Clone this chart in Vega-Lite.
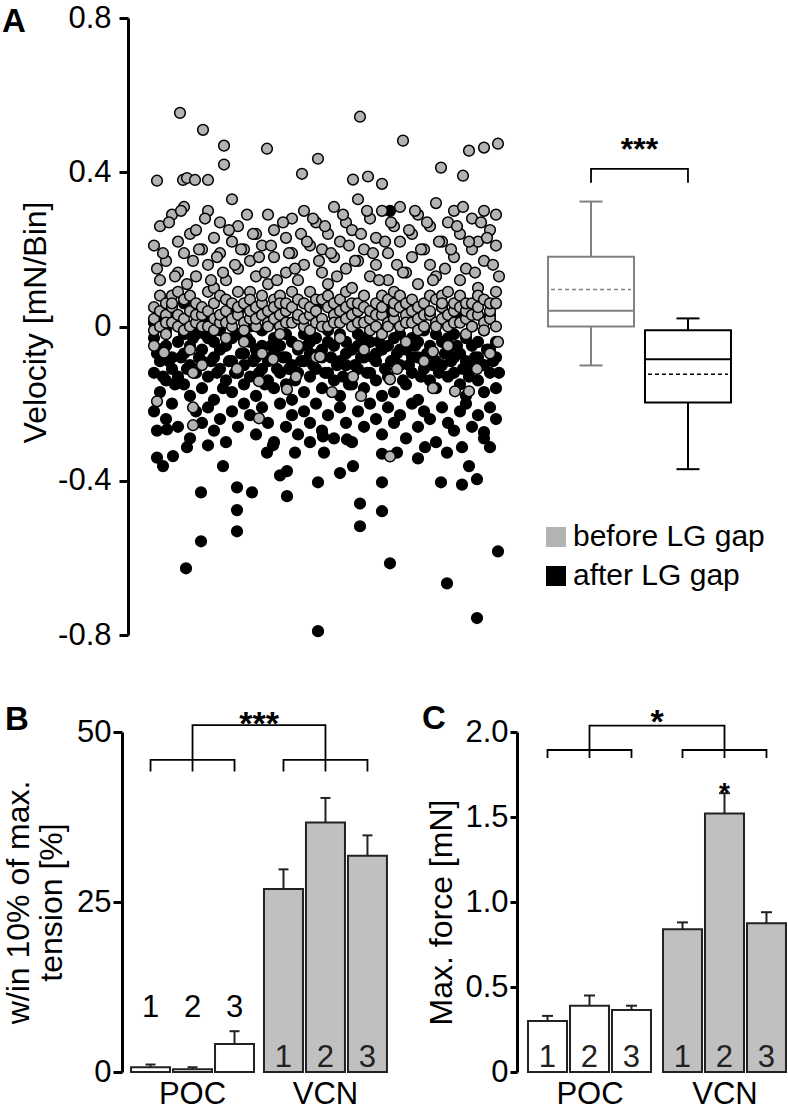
{
"$schema": "https://vega.github.io/schema/vega-lite/v6.json",
"autosize": {"type": "none"},
"padding": {"left": 122, "top": 18, "right": 666, "bottom": 1092},
"config": {
  "font": "Liberation Sans",
  "view": {"stroke": null},
  "axis": {"labelFont": "Liberation Sans", "titleFont": "Liberation Sans", "labelColor": "#000", "titleColor": "#000", "domainColor": "#000", "tickColor": "#000", "grid": false, "titleFontWeight": "normal", "labelFlush": false, "labelOverlap": false},
  "legend": {"labelFont": "Liberation Sans", "labelColor": "#000"},
  "title": {"font": "Liberation Sans", "color": "#000"},
  "text": {"font": "Liberation Sans", "color": "#000"}
},
"resolve": {"scale": {"fill": "independent", "stroke": "independent"}, "legend": {"fill": "independent", "stroke": "independent"}},
"columns": 2,
"spacing": {"row": 97, "column": 9},
"bounds": "flush",
"concat": [
{
  "width": 386, "height": 617,
  "title": {"text": "A", "anchor": "start", "frame": "group", "fontSize": 33, "fontWeight": "bold", "baseline": "alphabetic", "offset": 0, "dx": -120, "dy": 63},
  "layer": [
    {"data": {"name": "after"},
     "mark": {"type": "circle", "size": 115, "opacity": 1, "stroke": "#000", "strokeWidth": 1.5},
     "encoding": {
       "x": {"field": "t", "type": "quantitative", "scale": {"domain": [-28, 358], "nice": false, "zero": false}, "axis": null},
       "y": {"field": "v", "type": "quantitative", "scale": {"domain": [-0.8, 0.8], "nice": false, "zero": false},
             "axis": {"values": [-0.8, -0.4, 0, 0.4, 0.8], "labelExpr": "datum.value == 0 ? '0' : (datum.value < 0 ? '-' : '') + format(abs(datum.value), '.1f')",
                      "labelFontSize": 31, "tickSize": 9, "tickWidth": 3, "domainWidth": 3, "labelPadding": 8, "offset": -6,
                      "title": "Velocity [mN/Bin]", "titleFontSize": 32, "titleAngle": -90, "titleBaseline": "alphabetic", "titleAlign": "center", "titleX": -82.6, "titleY": 304}},
       "fill": {"datum": "after LG gap", "type": "nominal", "scale": {"domain": ["before LG gap", "after LG gap"], "range": ["#b3b3b3", "#000000"]},
                "legend": {"title": null, "orient": "none", "legendX": 419, "legendY": 504, "symbolType": "square", "symbolSize": 400, "labelFontSize": 30, "labelLimit": 400, "rowPadding": 9, "labelOffset": 2, "symbolStrokeWidth": 0,
                           "encode": {"symbols": {"update": {"fill": {"signal": "datum.label === 'before LG gap' ? '#7f7f7f' : '#000000'"}, "strokeWidth": {"value": 0}, "opacity": {"value": 1}}}}}}
     }},
    {"data": {"name": "before"},
     "mark": {"type": "circle", "size": 115, "opacity": 1, "stroke": "#000", "strokeWidth": 1.5},
     "encoding": {
       "x": {"field": "t", "type": "quantitative"},
       "y": {"field": "v", "type": "quantitative"},
       "fill": {"datum": "before LG gap", "type": "nominal"}
     }}
  ]
},
{
  "width": 245, "height": 617,
  "title": {"text": "***", "anchor": "middle", "frame": "group", "fontSize": 32, "fontWeight": "bold", "baseline": "alphabetic", "offset": 0, "dy": 174},
  "data": {"name": "box"},
  "encoding": {
    "x": {"field": "g", "type": "nominal", "scale": {"domain": ["before", "after"], "paddingInner": 0.113, "paddingOuter": 0.32}, "axis": null}
  },
  "layer": [
    {"mark": {"type": "rule", "strokeWidth": 2},
     "encoding": {"y": {"field": "lo", "type": "quantitative", "scale": {"domain": [-0.8, 0.8], "nice": false, "zero": false}, "axis": null}, "y2": {"field": "q1"},
                  "stroke": {"field": "g", "type": "nominal", "scale": {"domain": ["before", "after"], "range": ["#808080", "#000000"]}, "legend": null}}},
    {"mark": {"type": "rule", "strokeWidth": 2},
     "encoding": {"y": {"field": "q3", "type": "quantitative"}, "y2": {"field": "hi"}, "stroke": {"field": "g", "type": "nominal", "legend": null}}},
    {"mark": {"type": "point", "shape": "stroke", "size": 529, "filled": false, "strokeWidth": 2, "opacity": 1},
     "encoding": {"y": {"field": "lo", "type": "quantitative"}, "stroke": {"field": "g", "type": "nominal", "legend": null}}},
    {"mark": {"type": "point", "shape": "stroke", "size": 529, "filled": false, "strokeWidth": 2, "opacity": 1},
     "encoding": {"y": {"field": "hi", "type": "quantitative"}, "stroke": {"field": "g", "type": "nominal", "legend": null}}},
    {"mark": {"type": "bar", "fill": "#ffffff", "strokeWidth": 2},
     "encoding": {"y": {"field": "q1", "type": "quantitative"}, "y2": {"field": "q3"}, "stroke": {"field": "g", "type": "nominal", "legend": null}}},
    {"mark": {"type": "point", "shape": "stroke", "size": 7056, "filled": false, "strokeWidth": 2, "opacity": 1},
     "encoding": {"y": {"field": "med", "type": "quantitative"}, "stroke": {"field": "g", "type": "nominal", "legend": null}}},
    {"mark": {"type": "point", "shape": "stroke", "size": 6400, "filled": false, "strokeWidth": 1.6, "strokeDash": [4, 3], "opacity": 1},
     "encoding": {"y": {"field": "mean", "type": "quantitative"}, "stroke": {"field": "g", "type": "nominal", "legend": null}}},
    {"data": {"name": "brA"},
     "mark": {"type": "line", "color": "#000", "strokeWidth": 1.8},
     "encoding": {"y": {"field": "v", "type": "quantitative"}, "order": {"field": "s", "type": "quantitative"}}}
  ]
},
{
  "width": 274, "height": 340,
  "title": {"text": "B", "anchor": "start", "frame": "group", "fontSize": 33, "fontWeight": "bold", "baseline": "alphabetic", "offset": 0, "dx": -117, "dy": 55},
  "encoding": {
    "x": {"field": "group", "type": "nominal", "scale": {"domain": ["POC", "VCN"], "paddingInner": 0.075, "paddingOuter": 0.068},
          "axis": {"title": null, "domain": false, "ticks": false, "tickSize": 0, "labelFontSize": 31, "labelPadding": 7, "labelAngle": 0}},
    "xOffset": {"field": "rep", "type": "nominal", "scale": {"domain": ["1", "2", "3"], "paddingInner": 0.0714, "paddingOuter": 0}}
  },
  "layer": [
    {"data": {"name": "barsB"},
     "mark": {"type": "bar", "stroke": "#222", "strokeWidth": 2},
     "encoding": {
       "y": {"field": "val", "type": "quantitative", "scale": {"domain": [0, 50], "nice": false},
             "axis": {"values": [0, 25, 50], "labelFontSize": 31, "tickSize": 9, "tickWidth": 3, "domainWidth": 3, "labelPadding": 2,
                      "title": ["w/in 10% of max.", "tension [%]"], "titleFontSize": 32, "titleAngle": -90, "titleBaseline": "alphabetic", "titleAlign": "center", "titleX": -94, "titleLineHeight": 33}},
       "fill": {"field": "group", "type": "nominal", "scale": {"domain": ["POC", "VCN"], "range": ["#ffffff", "#c0c0c0"]}, "legend": null}
     }},
    {"data": {"name": "barsB"},
     "mark": {"type": "rule", "color": "#222", "strokeWidth": 2},
     "encoding": {"y": {"field": "val", "type": "quantitative"}, "y2": {"field": "hi"}}},
    {"data": {"name": "barsB"},
     "mark": {"type": "point", "shape": "stroke", "size": 100, "filled": false, "color": "#222", "strokeWidth": 2, "opacity": 1},
     "encoding": {"y": {"field": "hi", "type": "quantitative"}}},
    {"data": {"name": "barsB"},
     "transform": [{"filter": "datum.group === 'POC'"}],
     "mark": {"type": "text", "fontSize": 31, "baseline": "alphabetic", "align": "center"},
     "encoding": {"y": {"datum": 8.1}, "text": {"field": "rep"}}},
    {"data": {"name": "barsB"},
     "transform": [{"filter": "datum.group === 'VCN'"}],
     "mark": {"type": "text", "fontSize": 31, "baseline": "alphabetic", "align": "center", "dy": -5, "color": "#222"},
     "encoding": {"y": {"datum": 0}, "text": {"field": "rep"}}},
    {"data": {"name": "brB"},
     "mark": {"type": "line", "color": "#000", "strokeWidth": 1.8},
     "encoding": {"y": {"field": "v", "type": "quantitative"}, "detail": {"field": "piece"}, "order": {"field": "s", "type": "quantitative"}}},
    {"data": {"values": [{"label": "***"}]},
     "mark": {"type": "text", "fontSize": 34, "fontWeight": "bold", "baseline": "alphabetic", "align": "center", "dx": 66.5},
     "encoding": {"x": {"datum": "POC"}, "xOffset": {"datum": "2"}, "y": {"datum": 49.6}, "text": {"field": "label"}}}
  ]
},
{
  "width": 281, "height": 340,
  "title": {"text": "C", "anchor": "start", "frame": "group", "fontSize": 33, "fontWeight": "bold", "baseline": "alphabetic", "offset": 0, "dx": -95, "dy": 56},
  "encoding": {
    "x": {"field": "group", "type": "nominal", "scale": {"domain": ["POC", "VCN"], "paddingInner": 0.0815, "paddingOuter": 0.0815},
          "axis": {"title": null, "domain": false, "ticks": false, "tickSize": 0, "labelFontSize": 31, "labelPadding": 7, "labelAngle": 0}},
    "xOffset": {"field": "rep", "type": "nominal", "scale": {"domain": ["1", "2", "3"], "paddingInner": 0.0714, "paddingOuter": 0}}
  },
  "layer": [
    {"data": {"name": "barsC"},
     "mark": {"type": "bar", "stroke": "#222", "strokeWidth": 2},
     "encoding": {
       "y": {"field": "val", "type": "quantitative", "scale": {"domain": [0, 2], "nice": false},
             "axis": {"values": [0, 0.5, 1, 1.5, 2], "labelExpr": "datum.value == 0 ? '0' : format(datum.value, '.1f')", "labelFontSize": 31, "tickSize": 7, "tickWidth": 3, "domainWidth": 3, "labelPadding": 2,
                      "title": "Max. force [mN]", "titleFontSize": 32, "titleAngle": -90, "titleBaseline": "alphabetic", "titleAlign": "center", "titleX": -65.6, "titleY": 180}},
       "fill": {"field": "group", "type": "nominal", "scale": {"domain": ["POC", "VCN"], "range": ["#ffffff", "#c0c0c0"]}, "legend": null}
     }},
    {"data": {"name": "barsC"},
     "mark": {"type": "rule", "color": "#222", "strokeWidth": 2},
     "encoding": {"y": {"field": "val", "type": "quantitative"}, "y2": {"field": "hi"}}},
    {"data": {"name": "barsC"},
     "mark": {"type": "point", "shape": "stroke", "size": 121, "filled": false, "color": "#222", "strokeWidth": 2, "opacity": 1},
     "encoding": {"y": {"field": "hi", "type": "quantitative"}}},
    {"data": {"name": "barsC"},
     "mark": {"type": "text", "fontSize": 31, "baseline": "alphabetic", "align": "center", "dy": -5, "color": "#222"},
     "encoding": {"y": {"datum": 0}, "text": {"field": "rep"}}},
    {"data": {"name": "barsC"},
     "transform": [{"filter": "isValid(datum.sig)"}],
     "mark": {"type": "text", "fontSize": 28, "fontWeight": "bold", "baseline": "alphabetic", "align": "center", "dy": 9},
     "encoding": {"y": {"field": "hi", "type": "quantitative"}, "text": {"field": "sig"}}},
    {"data": {"name": "brC"},
     "mark": {"type": "line", "color": "#000", "strokeWidth": 1.8},
     "encoding": {"y": {"field": "v", "type": "quantitative"}, "detail": {"field": "piece"}, "order": {"field": "s", "type": "quantitative"}}},
    {"data": {"values": [{"label": "*"}]},
     "mark": {"type": "text", "fontSize": 34, "fontWeight": "bold", "baseline": "alphabetic", "align": "center", "dx": 67.5},
     "encoding": {"x": {"datum": "POC"}, "xOffset": {"datum": "2"}, "y": {"datum": 1.997}, "text": {"field": "label"}}}
  ]
}
],
"datasets": {
"box": [
  {"g": "before", "lo": -0.101, "q1": 0.0, "med": 0.041, "mean": 0.096, "q3": 0.181, "hi": 0.324},
  {"g": "after", "lo": -0.37, "q1": -0.197, "med": -0.085, "mean": -0.124, "q3": -0.01, "hi": 0.021}
],
"brA": [
  {"g": "before", "v": 0.373, "s": 1}, {"g": "before", "v": 0.409, "s": 2}, {"g": "after", "v": 0.409, "s": 3}, {"g": "after", "v": 0.373, "s": 4}
],
"barsB": [
  {"group": "POC", "rep": "1", "val": 0.7, "hi": 1.1},
  {"group": "POC", "rep": "2", "val": 0.4, "hi": 0.7},
  {"group": "POC", "rep": "3", "val": 4.1, "hi": 6.0},
  {"group": "VCN", "rep": "1", "val": 26.9, "hi": 29.8},
  {"group": "VCN", "rep": "2", "val": 36.7, "hi": 40.3},
  {"group": "VCN", "rep": "3", "val": 31.8, "hi": 34.8}
],
"barsC": [
  {"group": "POC", "rep": "1", "val": 0.30, "hi": 0.33},
  {"group": "POC", "rep": "2", "val": 0.39, "hi": 0.45},
  {"group": "POC", "rep": "3", "val": 0.365, "hi": 0.39},
  {"group": "VCN", "rep": "1", "val": 0.84, "hi": 0.88},
  {"group": "VCN", "rep": "2", "val": 1.52, "hi": 1.64, "sig": "*"},
  {"group": "VCN", "rep": "3", "val": 0.875, "hi": 0.94}
],
"brB": [
  {"piece": "top", "group": "POC", "rep": "2", "v": 44.2, "s": 1}, {"piece": "top", "group": "POC", "rep": "2", "v": 51, "s": 2},
  {"piece": "top", "group": "VCN", "rep": "2", "v": 51, "s": 3}, {"piece": "top", "group": "VCN", "rep": "2", "v": 44.2, "s": 4},
  {"piece": "lowP", "group": "POC", "rep": "1", "v": 44.2, "s": 1}, {"piece": "lowP", "group": "POC", "rep": "1", "v": 45.9, "s": 2},
  {"piece": "lowP", "group": "POC", "rep": "3", "v": 45.9, "s": 3}, {"piece": "lowP", "group": "POC", "rep": "3", "v": 44.2, "s": 4},
  {"piece": "lowV", "group": "VCN", "rep": "1", "v": 44.2, "s": 1}, {"piece": "lowV", "group": "VCN", "rep": "1", "v": 45.9, "s": 2},
  {"piece": "lowV", "group": "VCN", "rep": "3", "v": 45.9, "s": 3}, {"piece": "lowV", "group": "VCN", "rep": "3", "v": 44.2, "s": 4}
],
"brC": [
  {"piece": "top", "group": "POC", "rep": "2", "v": 1.847, "s": 1}, {"piece": "top", "group": "POC", "rep": "2", "v": 2.037, "s": 2},
  {"piece": "top", "group": "VCN", "rep": "2", "v": 2.037, "s": 3}, {"piece": "top", "group": "VCN", "rep": "2", "v": 1.847, "s": 4},
  {"piece": "lowP", "group": "POC", "rep": "1", "v": 1.847, "s": 1}, {"piece": "lowP", "group": "POC", "rep": "1", "v": 1.894, "s": 2},
  {"piece": "lowP", "group": "POC", "rep": "3", "v": 1.894, "s": 3}, {"piece": "lowP", "group": "POC", "rep": "3", "v": 1.847, "s": 4},
  {"piece": "lowV", "group": "VCN", "rep": "1", "v": 1.847, "s": 1}, {"piece": "lowV", "group": "VCN", "rep": "1", "v": 1.894, "s": 2},
  {"piece": "lowV", "group": "VCN", "rep": "3", "v": 1.894, "s": 3}, {"piece": "lowV", "group": "VCN", "rep": "3", "v": 1.847, "s": 4}
],
"before": [
{"t":4,"v":0.02},{"t":4,"v":0.05},{"t":4,"v":0.21},{"t":4,"v":-0.05},{"t":4,"v":-0.01},
{"t":10,"v":0.0},{"t":10,"v":0.04},{"t":10,"v":0.26},{"t":10,"v":0.12},{"t":10,"v":0.08},
{"t":16,"v":0.03},{"t":16,"v":0.06},{"t":16,"v":0.17},{"t":16,"v":-0.02},{"t":16,"v":0.01},
{"t":22,"v":0.01},{"t":22,"v":0.05},{"t":22,"v":0.29},{"t":22,"v":0.08},{"t":22,"v":0.06},
{"t":28,"v":0.0},{"t":28,"v":0.03},{"t":28,"v":0.22},{"t":28,"v":0.14},{"t":28,"v":0.09},
{"t":34,"v":0.02},{"t":34,"v":0.07},{"t":34,"v":0.31},{"t":34,"v":0.19},{"t":34,"v":-0.01},
{"t":40,"v":0.04},{"t":40,"v":0.0},{"t":40,"v":0.24},{"t":40,"v":-0.06},{"t":40,"v":0.08},
{"t":46,"v":0.01},{"t":46,"v":0.06},{"t":46,"v":0.13},{"t":46,"v":0.25},{"t":46,"v":0.03},
{"t":52,"v":0.03},{"t":52,"v":0.05},{"t":52,"v":0.2},{"t":52,"v":-0.1},{"t":52,"v":0.0},
{"t":58,"v":0.0},{"t":58,"v":0.04},{"t":58,"v":0.16},{"t":58,"v":0.3},{"t":58,"v":0.09},
{"t":64,"v":0.02},{"t":64,"v":0.06},{"t":64,"v":0.23},{"t":64,"v":0.1},{"t":64,"v":-0.01},
{"t":70,"v":0.01},{"t":70,"v":0.03},{"t":70,"v":0.19},{"t":70,"v":0.27},{"t":70,"v":0.08},
{"t":76,"v":0.04},{"t":76,"v":0.07},{"t":76,"v":0.12},{"t":76,"v":-0.03},{"t":76,"v":0.01},
{"t":82,"v":0.0},{"t":82,"v":0.02},{"t":82,"v":0.22},{"t":82,"v":0.33},{"t":82,"v":0.06},
{"t":88,"v":0.03},{"t":88,"v":0.05},{"t":88,"v":0.26},{"t":88,"v":0.15},{"t":88,"v":0.09},
{"t":94,"v":0.01},{"t":94,"v":0.06},{"t":94,"v":0.2},{"t":94,"v":-0.04},{"t":94,"v":-0.01},
{"t":100,"v":0.02},{"t":100,"v":0.04},{"t":100,"v":0.17},{"t":100,"v":0.09},{"t":100,"v":0.07},
{"t":106,"v":0.0},{"t":106,"v":0.05},{"t":106,"v":0.24},{"t":106,"v":0.13},{"t":106,"v":0.02},
{"t":112,"v":0.03},{"t":112,"v":0.06},{"t":112,"v":0.21},{"t":112,"v":-0.07},{"t":112,"v":0.08},
{"t":118,"v":0.01},{"t":118,"v":0.04},{"t":118,"v":0.29},{"t":118,"v":0.11},{"t":118,"v":0.0},
{"t":124,"v":0.02},{"t":124,"v":0.07},{"t":124,"v":0.18},{"t":124,"v":0.25},{"t":124,"v":0.05},
{"t":130,"v":0.0},{"t":130,"v":0.03},{"t":130,"v":0.08},{"t":130,"v":-0.02},{"t":130,"v":0.06},
{"t":136,"v":0.04},{"t":136,"v":0.06},{"t":136,"v":0.23},{"t":136,"v":0.14},{"t":136,"v":0.01},
{"t":142,"v":0.01},{"t":142,"v":0.05},{"t":142,"v":0.19},{"t":142,"v":0.28},{"t":142,"v":0.09},
{"t":148,"v":0.02},{"t":148,"v":0.03},{"t":148,"v":0.12},{"t":148,"v":-0.05},{"t":148,"v":0.07},
{"t":154,"v":0.0},{"t":154,"v":0.06},{"t":154,"v":0.3},{"t":154,"v":0.16},{"t":154,"v":0.02},
{"t":160,"v":0.03},{"t":160,"v":0.05},{"t":160,"v":0.21},{"t":160,"v":0.09},{"t":160,"v":-0.01},
{"t":166,"v":0.01},{"t":166,"v":0.04},{"t":166,"v":0.27},{"t":166,"v":-0.08},{"t":166,"v":0.07},
{"t":172,"v":0.02},{"t":172,"v":0.07},{"t":172,"v":0.14},{"t":172,"v":0.2},{"t":172,"v":0.0},
{"t":178,"v":0.0},{"t":178,"v":0.05},{"t":178,"v":0.24},{"t":178,"v":0.11},{"t":178,"v":0.08},
{"t":184,"v":0.03},{"t":184,"v":0.06},{"t":184,"v":0.18},{"t":184,"v":0.31},{"t":184,"v":0.01},
{"t":190,"v":0.01},{"t":190,"v":0.04},{"t":190,"v":0.22},{"t":190,"v":-0.03},{"t":190,"v":0.07},
{"t":196,"v":0.02},{"t":196,"v":0.05},{"t":196,"v":0.15},{"t":196,"v":0.27},{"t":196,"v":0.09},
{"t":202,"v":0.0},{"t":202,"v":0.03},{"t":202,"v":0.25},{"t":202,"v":0.1},{"t":202,"v":0.06},
{"t":208,"v":0.04},{"t":208,"v":0.06},{"t":208,"v":0.33},{"t":208,"v":0.17},{"t":208,"v":0.01},
{"t":214,"v":0.01},{"t":214,"v":0.05},{"t":214,"v":0.2},{"t":214,"v":-0.06},{"t":214,"v":0.08},
{"t":220,"v":0.02},{"t":220,"v":0.04},{"t":220,"v":0.28},{"t":220,"v":0.13},{"t":220,"v":-0.01},
{"t":226,"v":0.0},{"t":226,"v":0.06},{"t":226,"v":0.16},{"t":226,"v":0.23},{"t":226,"v":0.03},
{"t":232,"v":0.03},{"t":232,"v":0.05},{"t":232,"v":0.3},{"t":232,"v":-0.02},{"t":232,"v":0.08},
{"t":238,"v":0.01},{"t":238,"v":0.07},{"t":238,"v":0.19},{"t":238,"v":0.12},{"t":238,"v":0.0},
{"t":244,"v":0.02},{"t":244,"v":0.04},{"t":244,"v":0.26},{"t":244,"v":0.09},{"t":244,"v":0.06},
{"t":250,"v":0.0},{"t":250,"v":0.05},{"t":250,"v":0.22},{"t":250,"v":0.31},{"t":250,"v":0.08},
{"t":256,"v":0.03},{"t":256,"v":0.06},{"t":256,"v":0.14},{"t":256,"v":-0.04},{"t":256,"v":0.01},
{"t":262,"v":0.01},{"t":262,"v":0.04},{"t":262,"v":0.24},{"t":262,"v":0.18},{"t":262,"v":0.07},
{"t":268,"v":0.02},{"t":268,"v":0.05},{"t":268,"v":0.29},{"t":268,"v":0.11},{"t":268,"v":-0.01},
{"t":274,"v":0.0},{"t":274,"v":0.06},{"t":274,"v":0.2},{"t":274,"v":-0.09},{"t":274,"v":0.03},
{"t":280,"v":0.03},{"t":280,"v":0.04},{"t":280,"v":0.16},{"t":280,"v":0.26},{"t":280,"v":0.08},
{"t":286,"v":0.01},{"t":286,"v":0.07},{"t":286,"v":0.32},{"t":286,"v":0.13},{"t":286,"v":0.0},
{"t":292,"v":0.02},{"t":292,"v":0.05},{"t":292,"v":0.22},{"t":292,"v":0.08},{"t":292,"v":0.06},
{"t":298,"v":0.0},{"t":298,"v":0.03},{"t":298,"v":0.27},{"t":298,"v":-0.05},{"t":298,"v":0.09},
{"t":304,"v":0.04},{"t":304,"v":0.06},{"t":304,"v":0.18},{"t":304,"v":0.3},{"t":304,"v":0.01},
{"t":310,"v":0.01},{"t":310,"v":0.05},{"t":310,"v":0.24},{"t":310,"v":0.12},{"t":310,"v":0.08},
{"t":316,"v":0.02},{"t":316,"v":0.04},{"t":316,"v":0.15},{"t":316,"v":-0.02},{"t":316,"v":0.06},
{"t":322,"v":0.0},{"t":322,"v":0.06},{"t":322,"v":0.28},{"t":322,"v":0.2},{"t":322,"v":0.03},
{"t":328,"v":0.03},{"t":328,"v":0.05},{"t":328,"v":0.22},{"t":328,"v":0.1},{"t":328,"v":0.08},
{"t":334,"v":0.01},{"t":334,"v":0.07},{"t":334,"v":0.3},{"t":334,"v":0.17},{"t":334,"v":-0.01},
{"t":340,"v":0.02},{"t":340,"v":0.04},{"t":340,"v":0.25},{"t":340,"v":-0.07},{"t":340,"v":0.06},
{"t":346,"v":0.0},{"t":346,"v":0.06},{"t":346,"v":0.21},{"t":346,"v":0.29},{"t":346,"v":0.09},
{"t":7,"v":0.15},{"t":13,"v":0.19},{"t":19,"v":0.27},{"t":25,"v":0.13},{"t":31,"v":0.3},{"t":37,"v":0.11},
{"t":43,"v":0.17},{"t":49,"v":0.2},{"t":55,"v":0.28},{"t":61,"v":0.12},{"t":67,"v":0.18},{"t":73,"v":0.14},
{"t":79,"v":0.25},{"t":85,"v":0.16},{"t":91,"v":0.2},{"t":97,"v":0.29},{"t":103,"v":0.24},{"t":109,"v":0.18},
{"t":115,"v":0.14},{"t":121,"v":0.21},{"t":127,"v":0.12},{"t":133,"v":0.27},{"t":139,"v":0.19},{"t":145,"v":0.15},
{"t":151,"v":0.24},{"t":157,"v":0.22},{"t":163,"v":0.28},{"t":169,"v":0.17},{"t":175,"v":0.26},{"t":181,"v":0.19},
{"t":187,"v":0.13},{"t":193,"v":0.29},{"t":199,"v":0.21},{"t":205,"v":0.17},{"t":211,"v":0.24},{"t":217,"v":0.3},
{"t":223,"v":0.19},{"t":229,"v":0.12},{"t":235,"v":0.22},{"t":241,"v":0.27},{"t":247,"v":0.16},{"t":253,"v":0.14},
{"t":259,"v":0.25},{"t":265,"v":0.3},{"t":271,"v":0.2},{"t":277,"v":0.27},{"t":283,"v":0.12},{"t":289,"v":0.22},
{"t":295,"v":0.15},{"t":301,"v":0.2},{"t":307,"v":0.26},{"t":313,"v":0.31},{"t":319,"v":0.22},{"t":325,"v":0.14},
{"t":331,"v":0.27},{"t":337,"v":0.23},{"t":343,"v":0.16},{"t":349,"v":0.13},
{"t":30,"v":0.554},{"t":53,"v":0.51},{"t":74,"v":0.469},{"t":74,"v":0.42},{"t":117,"v":0.461},{"t":168,"v":0.435},
{"t":152,"v":0.396},{"t":210,"v":0.544},{"t":253,"v":0.482},{"t":319,"v":0.456},{"t":334,"v":0.464},{"t":348,"v":0.474},
{"t":291,"v":0.412},{"t":313,"v":0.391},{"t":7,"v":0.378},{"t":33,"v":0.38},{"t":37,"v":0.385},{"t":45,"v":0.38},
{"t":58,"v":0.38},{"t":203,"v":0.381},{"t":218,"v":0.389},{"t":232,"v":0.37},
{"t":7,"v":-0.194},{"t":43,"v":-0.21},{"t":43,"v":-0.256},{"t":109,"v":-0.238},{"t":137,"v":-0.163},{"t":240,"v":-0.337},
{"t":211,"v":-0.18},{"t":283,"v":-0.16},{"t":305,"v":-0.168},{"t":319,"v":-0.168},{"t":182,"v":-0.17},{"t":109,"v":-0.142},
{"t":203,"v":-0.13},{"t":146,"v":-0.13},{"t":43,"v":-0.12},{"t":87,"v":-0.11},{"t":240,"v":-0.137},{"t":283,"v":-0.065},
{"t":348,"v":-0.04},{"t":14,"v":-0.068},{"t":123,"v":-0.085},{"t":170,"v":-0.078},{"t":247,"v":-0.11},{"t":327,"v":-0.11}
],
"after": [
{"t":4,"v":-0.03},{"t":4,"v":-0.12},{"t":4,"v":0.01},{"t":4,"v":-0.22},
{"t":10,"v":-0.06},{"t":10,"v":0.02},{"t":10,"v":-0.09},{"t":10,"v":-0.17},
{"t":16,"v":-0.01},{"t":16,"v":-0.14},{"t":16,"v":-0.05},{"t":16,"v":-0.24},
{"t":22,"v":-0.08},{"t":22,"v":0.03},{"t":22,"v":-0.11},{"t":22,"v":-0.2},
{"t":28,"v":-0.04},{"t":28,"v":-0.13},{"t":28,"v":0.0},{"t":28,"v":-0.26},
{"t":34,"v":-0.07},{"t":34,"v":-0.02},{"t":34,"v":-0.15},{"t":34,"v":0.06},
{"t":40,"v":-0.1},{"t":40,"v":-0.05},{"t":40,"v":-0.18},{"t":40,"v":-0.29},
{"t":46,"v":-0.02},{"t":46,"v":-0.12},{"t":46,"v":0.04},{"t":46,"v":-0.22},
{"t":52,"v":-0.06},{"t":52,"v":-0.09},{"t":52,"v":-0.16},{"t":52,"v":-0.25},
{"t":58,"v":-0.03},{"t":58,"v":0.01},{"t":58,"v":-0.13},{"t":58,"v":-0.21},
{"t":64,"v":-0.08},{"t":64,"v":-0.04},{"t":64,"v":-0.19},{"t":64,"v":-0.27},
{"t":70,"v":-0.01},{"t":70,"v":-0.11},{"t":70,"v":-0.06},{"t":70,"v":-0.24},
{"t":76,"v":-0.05},{"t":76,"v":0.02},{"t":76,"v":-0.14},{"t":76,"v":-0.3},
{"t":82,"v":-0.09},{"t":82,"v":-0.03},{"t":82,"v":-0.17},{"t":82,"v":-0.22},
{"t":88,"v":-0.02},{"t":88,"v":-0.12},{"t":88,"v":0.04},{"t":88,"v":-0.26},
{"t":94,"v":-0.07},{"t":94,"v":-0.1},{"t":94,"v":-0.15},{"t":94,"v":-0.2},
{"t":100,"v":-0.04},{"t":100,"v":0.0},{"t":100,"v":-0.13},{"t":100,"v":-0.23},
{"t":106,"v":-0.06},{"t":106,"v":-0.08},{"t":106,"v":-0.18},{"t":106,"v":-0.28},
{"t":112,"v":-0.01},{"t":112,"v":-0.11},{"t":112,"v":-0.05},{"t":112,"v":-0.21},
{"t":118,"v":-0.09},{"t":118,"v":0.03},{"t":118,"v":-0.14},{"t":118,"v":-0.25},
{"t":124,"v":-0.03},{"t":124,"v":-0.07},{"t":124,"v":-0.16},{"t":124,"v":-0.3},
{"t":130,"v":-0.05},{"t":130,"v":-0.12},{"t":130,"v":0.01},{"t":130,"v":-0.2},
{"t":136,"v":-0.08},{"t":136,"v":-0.02},{"t":136,"v":-0.15},{"t":136,"v":-0.26},
{"t":142,"v":-0.04},{"t":142,"v":-0.1},{"t":142,"v":-0.19},{"t":142,"v":-0.23},
{"t":148,"v":-0.06},{"t":148,"v":0.02},{"t":148,"v":-0.12},{"t":148,"v":-0.28},
{"t":154,"v":-0.02},{"t":154,"v":-0.09},{"t":154,"v":-0.17},{"t":154,"v":-0.22},
{"t":160,"v":-0.07},{"t":160,"v":-0.04},{"t":160,"v":-0.13},{"t":160,"v":-0.25},
{"t":166,"v":-0.03},{"t":166,"v":-0.11},{"t":166,"v":0.05},{"t":166,"v":-0.2},
{"t":172,"v":-0.08},{"t":172,"v":-0.06},{"t":172,"v":-0.16},{"t":172,"v":-0.27},
{"t":178,"v":-0.01},{"t":178,"v":-0.12},{"t":178,"v":-0.04},{"t":178,"v":-0.23},
{"t":184,"v":-0.05},{"t":184,"v":0.03},{"t":184,"v":-0.14},{"t":184,"v":-0.29},
{"t":190,"v":-0.09},{"t":190,"v":-0.02},{"t":190,"v":-0.18},{"t":190,"v":-0.21},
{"t":196,"v":-0.04},{"t":196,"v":-0.1},{"t":196,"v":-0.07},{"t":196,"v":-0.25},
{"t":202,"v":-0.06},{"t":202,"v":0.01},{"t":202,"v":-0.15},{"t":202,"v":-0.3},
{"t":208,"v":-0.02},{"t":208,"v":-0.11},{"t":208,"v":-0.05},{"t":208,"v":-0.22},
{"t":214,"v":-0.08},{"t":214,"v":-0.03},{"t":214,"v":-0.16},{"t":214,"v":-0.26},
{"t":220,"v":-0.04},{"t":220,"v":-0.12},{"t":220,"v":0.02},{"t":220,"v":-0.2},
{"t":226,"v":-0.07},{"t":226,"v":-0.09},{"t":226,"v":-0.14},{"t":226,"v":-0.24},
{"t":232,"v":-0.01},{"t":232,"v":-0.06},{"t":232,"v":-0.18},{"t":232,"v":-0.28},
{"t":238,"v":-0.05},{"t":238,"v":0.04},{"t":238,"v":-0.13},{"t":238,"v":-0.21},
{"t":244,"v":-0.09},{"t":244,"v":-0.03},{"t":244,"v":-0.17},{"t":244,"v":-0.25},
{"t":250,"v":-0.02},{"t":250,"v":-0.1},{"t":250,"v":-0.06},{"t":250,"v":-0.23},
{"t":256,"v":-0.06},{"t":256,"v":0.01},{"t":256,"v":-0.15},{"t":256,"v":-0.29},
{"t":262,"v":-0.03},{"t":262,"v":-0.12},{"t":262,"v":-0.08},{"t":262,"v":-0.2},
{"t":268,"v":-0.08},{"t":268,"v":-0.04},{"t":268,"v":-0.19},{"t":268,"v":-0.26},
{"t":274,"v":-0.01},{"t":274,"v":-0.11},{"t":274,"v":0.03},{"t":274,"v":-0.22},
{"t":280,"v":-0.05},{"t":280,"v":-0.07},{"t":280,"v":-0.14},{"t":280,"v":-0.24},
{"t":286,"v":-0.09},{"t":286,"v":-0.02},{"t":286,"v":-0.16},{"t":286,"v":-0.3},
{"t":292,"v":-0.04},{"t":292,"v":-0.1},{"t":292,"v":0.05},{"t":292,"v":-0.21},
{"t":298,"v":-0.06},{"t":298,"v":-0.03},{"t":298,"v":-0.13},{"t":298,"v":-0.25},
{"t":304,"v":-0.02},{"t":304,"v":-0.12},{"t":304,"v":-0.08},{"t":304,"v":-0.27},
{"t":310,"v":-0.07},{"t":310,"v":0.02},{"t":310,"v":-0.15},{"t":310,"v":-0.22},
{"t":316,"v":-0.03},{"t":316,"v":-0.09},{"t":316,"v":-0.18},{"t":316,"v":-0.2},
{"t":322,"v":-0.05},{"t":322,"v":-0.11},{"t":322,"v":0.0},{"t":322,"v":-0.26},
{"t":328,"v":-0.08},{"t":328,"v":-0.04},{"t":328,"v":-0.14},{"t":328,"v":-0.23},
{"t":334,"v":-0.01},{"t":334,"v":-0.1},{"t":334,"v":-0.17},{"t":334,"v":-0.29},
{"t":340,"v":-0.06},{"t":340,"v":0.03},{"t":340,"v":-0.12},{"t":340,"v":-0.21},
{"t":346,"v":-0.04},{"t":346,"v":-0.08},{"t":346,"v":-0.16},{"t":346,"v":-0.24},
{"t":7,"v":-0.07},{"t":13,"v":-0.13},{"t":19,"v":-0.09},{"t":25,"v":-0.15},{"t":31,"v":-0.08},{"t":37,"v":-0.11},
{"t":43,"v":-0.03},{"t":49,"v":-0.08},{"t":55,"v":-0.02},{"t":61,"v":-0.09},{"t":67,"v":-0.12},{"t":73,"v":-0.16},
{"t":79,"v":-0.09},{"t":85,"v":-0.12},{"t":91,"v":-0.07},{"t":97,"v":-0.03},{"t":103,"v":-0.09},{"t":109,"v":-0.12},
{"t":115,"v":-0.15},{"t":121,"v":-0.05},{"t":127,"v":-0.11},{"t":133,"v":-0.08},{"t":139,"v":-0.11},{"t":145,"v":-0.14},
{"t":151,"v":-0.09},{"t":157,"v":-0.05},{"t":163,"v":-0.1},{"t":169,"v":-0.07},{"t":175,"v":-0.12},{"t":181,"v":-0.08},
{"t":187,"v":-0.1},{"t":193,"v":-0.13},{"t":199,"v":-0.15},{"t":205,"v":-0.1},{"t":211,"v":-0.08},{"t":217,"v":-0.12},
{"t":223,"v":-0.08},{"t":229,"v":-0.04},{"t":235,"v":-0.11},{"t":241,"v":-0.09},{"t":247,"v":-0.07},{"t":253,"v":-0.14},
{"t":259,"v":-0.1},{"t":265,"v":-0.05},{"t":271,"v":-0.13},{"t":277,"v":-0.07},{"t":283,"v":-0.1},{"t":289,"v":-0.12},
{"t":295,"v":-0.07},{"t":301,"v":-0.09},{"t":307,"v":-0.05},{"t":313,"v":-0.11},{"t":319,"v":-0.13},{"t":325,"v":-0.08},
{"t":331,"v":-0.1},{"t":337,"v":-0.06},{"t":343,"v":-0.09},{"t":349,"v":-0.12},
{"t":36,"v":-0.627},{"t":51,"v":-0.557},{"t":51,"v":-0.43},{"t":87,"v":-0.531},{"t":87,"v":-0.476},{"t":87,"v":-0.417},
{"t":102,"v":-0.43},{"t":137,"v":-0.44},{"t":168,"v":-0.79},{"t":168,"v":-0.404},{"t":210,"v":-0.459},{"t":210,"v":-0.518},
{"t":232,"v":-0.404},{"t":232,"v":-0.479},{"t":240,"v":-0.614},{"t":297,"v":-0.666},{"t":291,"v":-0.404},{"t":312,"v":-0.41},
{"t":327,"v":-0.396},{"t":327,"v":-0.756},{"t":348,"v":-0.583},{"t":319,"v":-0.362},{"t":73,"v":-0.362},{"t":190,"v":-0.38},
{"t":203,"v":-0.362},{"t":130,"v":-0.386},{"t":137,"v":-0.375},{"t":58,"v":-0.308},{"t":37,"v":-0.313},{"t":7,"v":-0.34},
{"t":13,"v":-0.362},{"t":23,"v":-0.336},{"t":7,"v":-0.27},{"t":17,"v":-0.267},{"t":117,"v":-0.327},{"t":123,"v":-0.308},
{"t":145,"v":-0.327},{"t":174,"v":-0.327},{"t":197,"v":-0.293},{"t":232,"v":-0.33},{"t":247,"v":-0.327},{"t":268,"v":-0.342},
{"t":275,"v":-0.313},{"t":297,"v":-0.327},{"t":312,"v":-0.313},{"t":340,"v":-0.313},{"t":334,"v":-0.274},{"t":160,"v":-0.3},
{"t":173,"v":-0.285},{"t":240,"v":0.3}
]
}
}
